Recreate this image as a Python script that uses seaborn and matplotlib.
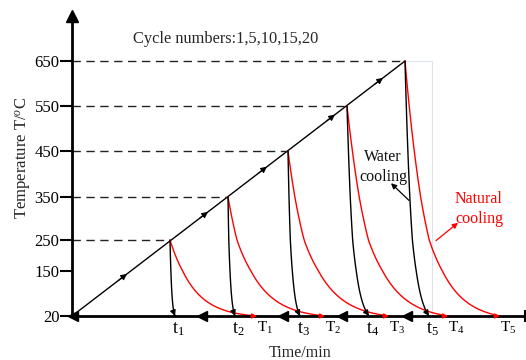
import numpy as np
import matplotlib
matplotlib.use("Agg")
import matplotlib.pyplot as plt
import matplotlib.transforms as mtrans
import seaborn as sns
import pandas as pd

sns.set_theme(style="white")
plt.rcParams['font.family'] = ['Liberation Serif', 'DejaVu Serif']
plt.rcParams['mathtext.fontset'] = 'custom'
plt.rcParams['mathtext.rm'] = 'Liberation Serif'
plt.rcParams['mathtext.it'] = 'Liberation Serif:italic'

# ---------------- data (read from the schematic) ----------------
ytick_values = [20, 150, 250, 350, 450, 550, 650]
# positions of ticks on the (non-linear) schematic temperature axis, in axis units
ytick_axis_pos = [0, 45, 76, 119, 165, 210, 255]

peak_temps = [250, 350, 450, 550, 650]          # heating peak of each cycle
peak_times = [98, 156, 216, 275, 333]          # time at the peak
water_end_times = [103, 163, 228, 297, 357]    # t1..t5
natural_end_times = [185, 253, 317, 376, 428]  # T1..T5
room_temp = 20
ramp_arrow_times = [51, 132, 191, 259, 307]
return_arrow_times = [1, 130, 211, 270, 335]

t_labels = [r'$\mathrm{t}_{1}$', r'$\mathrm{t}_{2}$', r'$\mathrm{t}_{3}$', r'$\mathrm{t}_{4}$', r'$\mathrm{t}_{5}$']
T_labels = [r'$\mathrm{T}_{1}$', r'$\mathrm{T}_{2}$', r'$\mathrm{T}_{3}$', r'$\mathrm{T}_{4}$', r'$\mathrm{T}_{5}$']

k_water = 3.0
k_natural = 3.8

# ---------------- figure ----------------
fig = plt.figure(figsize=(5.26, 3.6), dpi=100)
ax = fig.add_axes([72 / 526, 44 / 360, 453 / 526, 300 / 360])

nodes_T = [-300] + ytick_values + [750, 2000]
nodes_p = [-135] + ytick_axis_pos + [300, 860]

def fwd(T):
    return np.interp(T, nodes_T, nodes_p)

def inv(p):
    return np.interp(p, nodes_p, nodes_T)

ax.set_yscale('function', functions=(fwd, inv))
ax.set_xlim(0, 453)
ax.set_ylim(20, 750)

def cooling(t0, t1, Tp, k, n=80):
    s = np.linspace(0, 1, n)
    f = (np.exp(-k * s) - np.exp(-k)) / (1 - np.exp(-k))
    return t0 + (t1 - t0) * s, room_temp + (Tp - room_temp) * f

# ramp line (straight on the schematic axis)
ramp = pd.DataFrame({'time': [0, peak_times[-1]], 'temp': [room_temp, peak_temps[-1]]})
sns.lineplot(data=ramp, x='time', y='temp', color='black', lw=1.0, ax=ax)

def ramp_temp(t):
    p0, p1 = fwd(room_temp), fwd(peak_temps[-1])
    return inv(p0 + (p1 - p0) * t / peak_times[-1])

# dashed level lines
for tp, Tp in zip(peak_times, peak_temps):
    ax.plot([0, tp], [Tp, Tp], color='#222222', lw=1.0, ls=(0, (6, 4)))

# faint box
ax.plot([peak_times[-1], 360, 360], [650, 650, room_temp], color='#dde4ee', lw=0.8, zorder=0)

# cooling curves
for i in range(5):
    xr, yr = cooling(peak_times[i], natural_end_times[i], peak_temps[i], k_natural)
    sns.lineplot(x=xr, y=yr, sort=False, color='red', lw=1.0, ax=ax)
    ax.annotate('', xy=(xr[-1], yr[-1]), xytext=(xr[-1] - 6, yr[-1]),
                arrowprops=dict(arrowstyle='-|>', color='red', lw=1.0, mutation_scale=7,
                                shrinkA=0, shrinkB=0))
    xb, yb = cooling(peak_times[i], water_end_times[i], peak_temps[i], k_water)
    sns.lineplot(x=xb, y=yb, sort=False, color='black', lw=1.0, ax=ax)
    ax.annotate('', xy=(xb[-1], yb[-1]), xytext=(xb[-5], yb[-5]),
                arrowprops=dict(arrowstyle='-|>', color='black', lw=1.0, mutation_scale=8,
                                shrinkA=0, shrinkB=0))

# arrowheads on the ramp
for ta in ramp_arrow_times:
    ax.annotate('', xy=(ta + 4, ramp_temp(ta + 4)), xytext=(ta - 4, ramp_temp(ta - 4)),
                arrowprops=dict(arrowstyle='-|>', color='black', lw=0.8, mutation_scale=9,
                                shrinkA=0, shrinkB=0))

# return arrows on time axis
ax.plot(return_arrow_times, [room_temp] * 5, ls='none', marker='<', color='black',
        markersize=7, clip_on=False, zorder=5)

# spines
for s in ['top', 'right']:
    ax.spines[s].set_visible(False)
ax.spines['left'].set_linewidth(2.0)
ax.spines['bottom'].set_linewidth(2.0)
ax.spines['left'].set_color('black')
ax.spines['bottom'].set_color('black')
ax.plot([0], [1], transform=ax.transAxes, marker='^', color='black', markersize=8,
        clip_on=False)
ax.plot([1], [0], transform=ax.transAxes, marker='|', color='black', markersize=9,
        mew=1.5, clip_on=False)

ax.set_xticks([])
ax.set_yticks(ytick_values)
ax.set_yticklabels([str(v) for v in ytick_values])
ax.tick_params(axis='y', direction='out', length=9, width=1.5, pad=0, labelsize=12,
               colors='black', left=True)
ax.minorticks_off()

ax.set_ylabel(r'Temperature T/$^{\it{o}}$C', fontsize=12)
ax.yaxis.set_label_coords(-38 / 453, 158 / 300)
ax.set_xlabel('Time/min', fontsize=11.5)
ax.xaxis.set_label_coords((300 - 72) / 453, -29 / 300)

# labels under time axis
off = mtrans.ScaledTranslation(0, -4 / 100, fig.dpi_scale_trans)
for te, lab in zip(water_end_times, t_labels):
    ax.text(te - 3, room_temp, lab, fontsize=13, ha='left', va='top',
            transform=ax.transData + off, color='black')
for te, lab in zip(natural_end_times, T_labels):
    ax.text(te, room_temp, lab, fontsize=11, ha='left', va='top',
            transform=ax.transData + off, color='black')

ax.text(61, 698, 'Cycle numbers:1,5,10,15,20', fontsize=11.8, ha='left', va='center')

ax.text(311, 415, 'Water\ncooling', fontsize=11.5, ha='center', va='center',
        linespacing=1.3, color='#111111')
ax.annotate('', xy=(319, 380), xytext=(337, 342),
            arrowprops=dict(arrowstyle='-|>', color='black', lw=0.9, mutation_scale=8,
                            shrinkA=0, shrinkB=0))
ax.text(407, 322, 'Natural\ncooling', fontsize=11.5, ha='center', va='center',
        linespacing=1.3, color='red')
ax.annotate('', xy=(386, 290), xytext=(364, 248),
            arrowprops=dict(arrowstyle='-|>', color='red', lw=0.9, mutation_scale=8,
                            shrinkA=0, shrinkB=0))

fig.savefig('out.png', dpi=100)
